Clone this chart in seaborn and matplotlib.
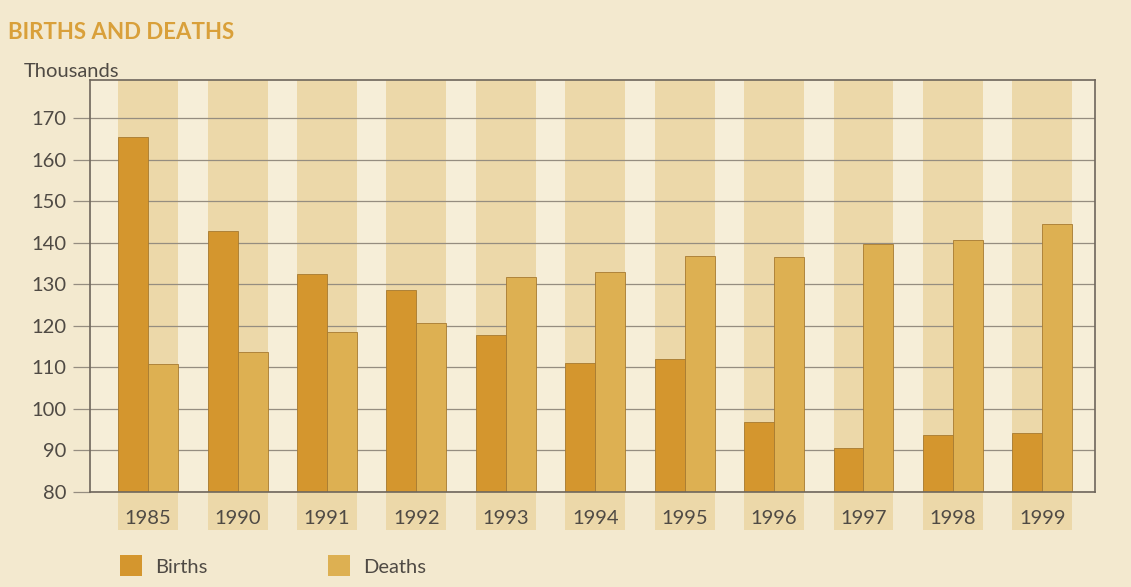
import matplotlib
matplotlib.use("Agg")
import matplotlib.pyplot as plt
import seaborn as sns
import pandas as pd
from matplotlib.patches import Rectangle

years = ["1985", "1990", "1991", "1992", "1993", "1994", "1995", "1996", "1997", "1998", "1999"]
births = [165.5, 142.8, 132.6, 128.6, 117.8, 111.1, 112.0, 96.8, 90.6, 93.6, 94.3]
deaths = [110.9, 113.7, 118.5, 120.6, 131.9, 132.9, 136.9, 136.5, 139.8, 140.7, 144.6]
series = ["Births", "Deaths"]
yticks = [80, 90, 100, 110, 120, 130, 140, 150, 160, 170]

df = pd.DataFrame({
    "Year": years * 2,
    "Value": births + deaths,
    "Series": [series[0]] * len(years) + [series[1]] * len(years),
})

sns.set_theme(style="white")
plt.rcParams["font.family"] = ["Lato", "DejaVu Sans"]

bg = "#f3e9cf"
txt = "#4f4a44"
fig = plt.figure(figsize=(11.31, 5.87), dpi=100, facecolor=bg)
ax = fig.add_axes([0.0796, 0.162, 0.8886, 0.702])
ax.set_facecolor("#f6eed8")

colors = {"Births": "#d4962e", "Deaths": "#ddb052"}
sns.barplot(data=df, x="Year", y="Value", hue="Series", palette=colors,
            width=0.67, gap=0, saturation=1, edgecolor="#a67a30", linewidth=0.6,
            ax=ax, legend=False, zorder=3)

ax.set_ylim(80, 179.3)
ax.set_xlim(-0.65, len(years) - 1 + 0.59)
ax.set_yticks(yticks)
ax.set_yticklabels([str(v) for v in yticks], fontsize=14.5, color=txt)

# background stripes behind each group, reaching down behind the year labels
for i in range(len(years)):
    ax.axvspan(i - 0.335, i + 0.335, ymin=-0.092, ymax=1, color="#ecd8a9",
               zorder=0, clip_on=False, lw=0)

ax.grid(axis="y", color="#958d80", linewidth=0.9, zorder=1)
ax.set_axisbelow(False)
for s in ax.spines.values():
    s.set_color("#6e665c")
    s.set_linewidth(1.2)
    s.set_zorder(4)

ax.tick_params(axis="y", length=12, width=0.9, color="#958d80", pad=5, left=True)
ax.tick_params(axis="x", length=0, pad=13, labelsize=14.5, labelcolor=txt)
ax.set_xlabel("")
ax.set_ylabel("")

fig.text(0.007, 0.945, "BIRTHS AND DEATHS", fontsize=16, fontweight="bold",
         color="#d9a03a", ha="left", va="center")
fig.text(0.021, 0.878, "Thousands", fontsize=14.5, color=txt,
         ha="left", va="center")

# legend
for (x0, label) in [(0.106, "Births"), (0.29, "Deaths")]:
    fig.patches.append(Rectangle((x0, 0.018), 0.0195, 0.037, transform=fig.transFigure,
                                 facecolor=colors[label], edgecolor="none"))
    fig.text(x0 + 0.031, 0.034, label, fontsize=14.5, color=txt,
             ha="left", va="center")

fig.savefig("out.png", dpi=100, facecolor=bg)
